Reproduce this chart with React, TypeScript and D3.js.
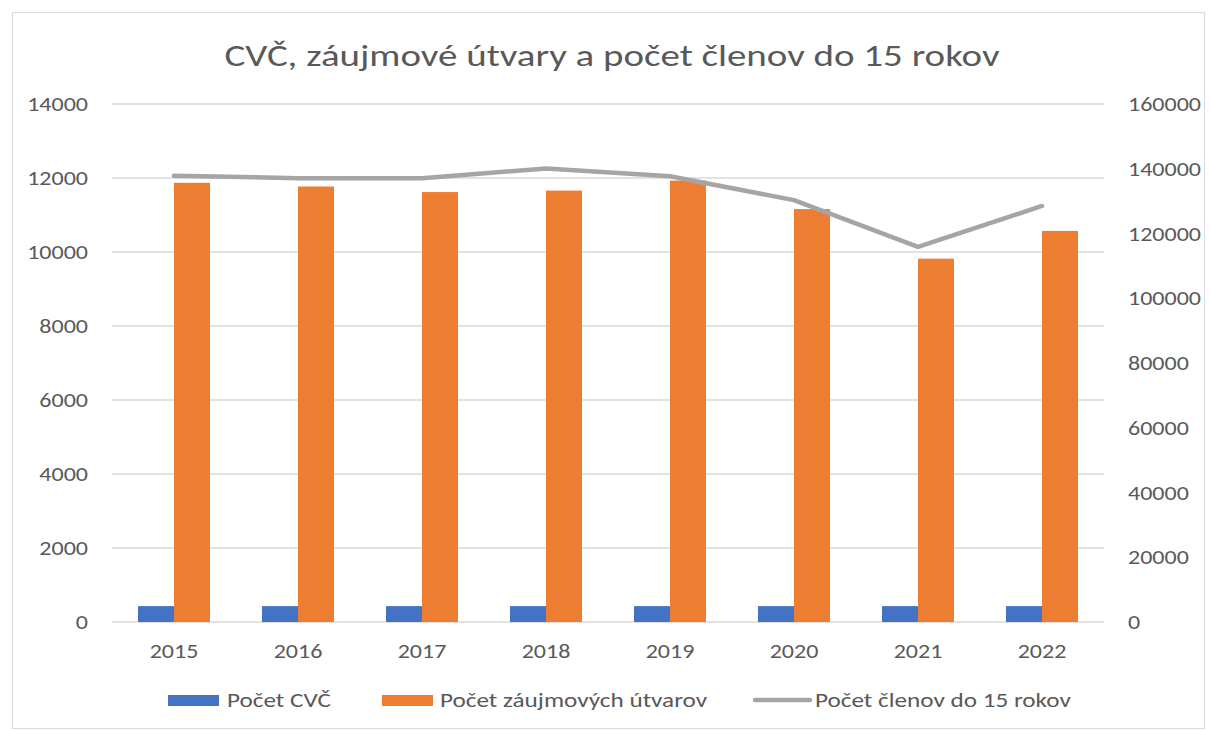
import React, { useEffect } from "react";
import * as d3 from "d3";

const years = ["2015", "2016", "2017", "2018", "2019", "2020", "2021", "2022"];
const pocetCvc = [430, 430, 430, 430, 430, 430, 430, 430];
const pocetUtvarov = [11870, 11770, 11620, 11660, 11930, 11160, 9820, 10570];
const pocetClenov = [137800, 137100, 137100, 140100, 137700, 130300, 115900, 128500];
const leftTicks = [0, 2000, 4000, 6000, 8000, 10000, 12000, 14000];
const rightTicks = [0, 20000, 40000, 60000, 80000, 100000, 120000, 140000, 160000];

const seriesNames = ["Počet CVČ", "Počet záujmových útvarov", "Počet členov do 15 rokov"];
const colors = ["#4472c4", "#ed7d31", "#a5a5a5"];

export default function App() {
  const svgRef = React.useRef(null);
  const width = 1210;
  const height = 731;

  useEffect(() => {
    document.body.style.margin = "0";
    const svg = d3.select(svgRef.current);
    svg.selectAll("*").remove();

    const font = "Calibri, Carlito, 'Liberation Sans', Arial, sans-serif";
    const textColor = "#595959";
    const stretch = 1.2; // the screenshot is a bit wider than tall
    const left = 112;
    const right = 1104;
    const top = 104;
    const bottom = 622;

    // widen text horizontally like the source picture
    function widen(sel: any) {
      sel.each(function (this: any) {
        const len = this.getComputedTextLength();
        d3.select(this)
          .attr("textLength", len * stretch)
          .attr("lengthAdjust", "spacingAndGlyphs");
      });
    }

    svg
      .append("rect")
      .attr("x", 12.5)
      .attr("y", 12.5)
      .attr("width", 1192)
      .attr("height", 716)
      .attr("fill", "#fff")
      .attr("stroke", "#d9d9d9");

    svg
      .append("text")
      .attr("x", 612)
      .attr("y", 66)
      .attr("text-anchor", "middle")
      .attr("fill", textColor)
      .style("font-family", font)
      .style("font-size", "31px")
      .attr("textLength", 775)
      .attr("lengthAdjust", "spacingAndGlyphs")
      .text("CVČ, záujmové útvary a počet členov do 15 rokov");

    const x = d3.scaleBand().domain(years).range([left, right]);
    const yL = d3.scaleLinear().domain([0, 14000]).range([bottom, top]);
    const yR = d3.scaleLinear().domain([0, 160000]).range([bottom, top]);

    // gridlines
    svg
      .append("g")
      .selectAll("line")
      .data(leftTicks)
      .enter()
      .append("line")
      .attr("x1", left)
      .attr("x2", right)
      .attr("y1", (d) => yL(d))
      .attr("y2", (d) => yL(d))
      .attr("stroke", "#d9d9d9")
      .attr("stroke-width", 1.5);

    // left labels
    svg
      .append("g")
      .selectAll("text")
      .data(leftTicks)
      .enter()
      .append("text")
      .attr("x", 88)
      .attr("y", (d) => yL(d))
      .attr("dy", "0.35em")
      .attr("text-anchor", "end")
      .attr("fill", textColor)
      .style("font-family", font)
      .style("font-size", "20px")
      .text((d) => String(d))
      .call(widen);

    // right labels
    svg
      .append("g")
      .selectAll("text")
      .data(rightTicks)
      .enter()
      .append("text")
      .attr("x", 1128)
      .attr("y", (d) => yR(d))
      .attr("dy", "0.35em")
      .attr("text-anchor", "start")
      .attr("fill", textColor)
      .style("font-family", font)
      .style("font-size", "20px")
      .text((d) => String(d))
      .call(widen);

    // x labels
    svg
      .append("g")
      .selectAll("text")
      .data(years)
      .enter()
      .append("text")
      .attr("x", (d) => (x(d) as number) + x.bandwidth() / 2)
      .attr("y", 651)
      .attr("dy", "0.35em")
      .attr("text-anchor", "middle")
      .attr("fill", textColor)
      .style("font-family", font)
      .style("font-size", "20px")
      .text((d) => d)
      .call(widen);

    const barW = 36;
    const bars = [pocetCvc, pocetUtvarov];
    bars.forEach((vals, s) => {
      svg
        .append("g")
        .selectAll("rect")
        .data(vals)
        .enter()
        .append("rect")
        .attr("x", (d, i) => (x(years[i]) as number) + x.bandwidth() / 2 - barW + s * barW)
        .attr("y", (d) => yL(d))
        .attr("width", barW)
        .attr("height", (d) => bottom - yL(d))
        .attr("fill", colors[s]);
    });

    const line = d3
      .line<number>()
      .x((d, i) => (x(years[i]) as number) + x.bandwidth() / 2)
      .y((d) => yR(d));

    svg
      .append("path")
      .datum(pocetClenov)
      .attr("d", line)
      .attr("fill", "none")
      .attr("stroke", colors[2])
      .attr("stroke-width", 4.5)
      .attr("stroke-linecap", "round")
      .attr("stroke-linejoin", "round");

    // legend
    const legendY = 700;
    const legendItems = [
      { sx: 168, tx: 227 },
      { sx: 382, tx: 440 },
      { sx: 753, tx: 815 },
    ];
    legendItems.forEach((it, i) => {
      if (i < 2) {
        svg
          .append("rect")
          .attr("x", it.sx)
          .attr("y", legendY - 5)
          .attr("width", 51)
          .attr("height", 11)
          .attr("fill", colors[i]);
      } else {
        svg
          .append("line")
          .attr("x1", it.sx + 2)
          .attr("x2", it.sx + 57)
          .attr("y1", legendY)
          .attr("y2", legendY)
          .attr("stroke", colors[i])
          .attr("stroke-width", 4.5)
          .attr("stroke-linecap", "round");
      }
      svg
        .append("text")
        .attr("x", it.tx)
        .attr("y", legendY)
        .attr("dy", "0.35em")
        .attr("fill", textColor)
        .style("font-family", font)
        .style("font-size", "21px")
        .text(seriesNames[i])
        .call(widen);
    });
  }, []);

  return <svg ref={svgRef} width={width} height={height} style={{ display: "block" }} />;
}
